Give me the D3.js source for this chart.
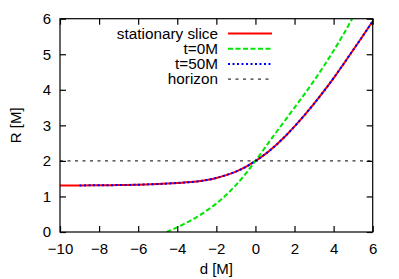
<!DOCTYPE html>
<html><head><meta charset="utf-8">
<script src="https://cdn.jsdelivr.net/npm/d3@7"></script>
<style>
html,body{margin:0;padding:0;background:#fff;}
svg{display:block;font-family:"Liberation Sans",Arial,sans-serif;}
</style></head>
<body>
<svg id="c" width="399" height="279"></svg>
<script>
const dStationary = [-10,-9,-8,-7,-6,-5,-4,-3,-2.5,-2,-1.5,-1,-0.5,0,0.5,1,1.5,2,2.5,3,3.5,4,4.5,5,5.5,6];
const rStationary = [1.31,1.31,1.315,1.32,1.33,1.35,1.38,1.42,1.46,1.52,1.6,1.7,1.83,2.0,2.19,2.42,2.68,2.97,3.28,3.61,3.96,4.33,4.72,5.12,5.52,5.93];
const dT0 = [-4.55,-4,-3.5,-3,-2.5,-2,-1.5,-1,-0.5,0,0.5,1,1.5,2,2.5,3,3.5,4,4.5,4.95];
const rT0 = [0,0.13,0.27,0.42,0.6,0.8,1.04,1.32,1.64,2.0,2.38,2.76,3.13,3.5,3.87,4.26,4.67,5.1,5.56,6.0];
const dT50 = [-9,-8,-7,-6,-5,-4,-3,-2.5,-2,-1.5,-1,-0.5,0,0.5,1,1.5,2,2.5,3,3.5,4,4.5,5,5.5,6];
const rT50 = [1.31,1.315,1.32,1.33,1.35,1.38,1.42,1.46,1.52,1.6,1.7,1.83,2.0,2.19,2.42,2.68,2.97,3.28,3.61,3.96,4.33,4.72,5.12,5.52,5.93];
const dHorizon = [-10,6];
const rHorizon = [2,2];
const xTicks = [-10,-8,-6,-4,-2,0,2,4,6];
const yTicks = [0,1,2,3,4,5,6];
const legendLabels = ["stationary slice","t=0M","t=50M","horizon"];

const svg = d3.select("#c");
const L=60, R=372.7, T=18.7, B=232;
const x = d3.scaleLinear().domain([-10,6]).range([L,R]);
const y = d3.scaleLinear().domain([0,6]).range([B,T]);

const series = [
  {d:dStationary, r:rStationary, color:"#ff0000", w:2, dash:null},
  {d:dT0, r:rT0, color:"#00e600", w:2, dash:"5,2.5"},
  {d:dT50, r:rT50, color:"#0000ff", w:2, dash:"2,2.5"},
  {d:dHorizon, r:rHorizon, color:"#000", w:1, dash:"3,4.5"}
];

const line = d3.line().x(p=>x(p[0])).y(p=>y(p[1])).curve(d3.curveMonotoneX);

const g = svg.append("g");
g.append("clipPath").attr("id","clip").append("rect")
  .attr("x",L).attr("y",T).attr("width",R-L).attr("height",B-T);
const plot = g.append("g").attr("clip-path","url(#clip)");
series.forEach(s=>{
  plot.append("path")
    .attr("d", line(d3.zip(s.d,s.r)))
    .attr("fill","none").attr("stroke",s.color).attr("stroke-width",s.w)
    .attr("stroke-dasharray",s.dash);
});

// frame
svg.append("rect").attr("x",L).attr("y",T).attr("width",R-L).attr("height",B-T)
  .attr("fill","none").attr("stroke","#000").attr("stroke-width",1.2);

// axes with inward ticks
const tl = 6;
const ax = svg.append("g").attr("transform",`translate(0,${B})`)
  .call(d3.axisBottom(x).tickValues(xTicks).tickSize(-tl).tickPadding(11).tickFormat(d3.format("d")));
const axTop = svg.append("g").attr("transform",`translate(0,${T})`)
  .call(d3.axisTop(x).tickValues(xTicks).tickSize(-tl).tickFormat(""));
const ay = svg.append("g").attr("transform",`translate(${L},0)`)
  .call(d3.axisLeft(y).tickValues(yTicks).tickSize(-tl).tickPadding(9).tickFormat(d3.format("d")));
const ayR = svg.append("g").attr("transform",`translate(${R},0)`)
  .call(d3.axisRight(y).tickValues(yTicks).tickSize(-tl).tickFormat(""));
[ax,axTop,ay,ayR].forEach(a=>{
  a.select(".domain").remove();
  a.selectAll(".tick line").attr("stroke","#000").attr("stroke-width",1.2);
  a.selectAll("text").attr("font-size",15).attr("fill","#000")
   .attr("font-family","'Liberation Sans',Arial,sans-serif");
});

// axis titles
svg.append("text").attr("x",(L+R)/2).attr("y",274).attr("text-anchor","middle")
  .attr("font-size",15).text("d [M]");
svg.append("text").attr("transform",`translate(21,${(T+B)/2}) rotate(-90)`)
  .attr("text-anchor","middle").attr("font-size",15).text("R [M]");

// legend
const lg = svg.append("g");
legendLabels.forEach((lab,i)=>{
  const yy = 33.5 + i*15.2;
  lg.append("text").attr("x",218).attr("y",yy).attr("dy","0.35em")
    .attr("text-anchor","end").attr("font-size",15.3).text(lab);
  const s = series[i];
  lg.append("line").attr("x1",228).attr("x2",272).attr("y1",yy).attr("y2",yy)
    .attr("stroke",s.color).attr("stroke-width",s.w).attr("stroke-dasharray",s.dash);
});
</script>
</body></html>
